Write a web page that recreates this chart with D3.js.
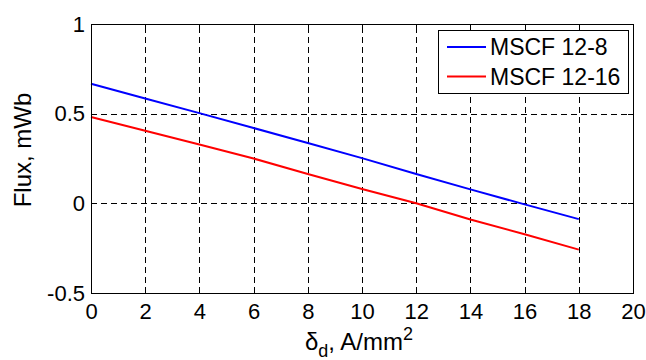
<!DOCTYPE html>
<html><head><meta charset="utf-8">
<script src="https://cdn.jsdelivr.net/npm/d3@7"></script>
<style>body{margin:0;background:#fff}svg{display:block}text{font-family:"Liberation Sans",Arial,sans-serif;fill:#000}</style>
</head><body><svg id="c" width="646" height="360"></svg>
<script>
const xValues = [0, 2, 4, 6, 8, 10, 12, 14, 16, 18];
const seriesNames = ["MSCF 12-8", "MSCF 12-16"];
const seriesColors = ["#0000ff", "#ff0000"];
const blueValues = [0.667, 0.585, 0.503, 0.420, 0.336, 0.252, 0.164, 0.078, -0.006, -0.088];
const redValues = [0.481, 0.405, 0.328, 0.250, 0.164, 0.080, 0.000, -0.090, -0.172, -0.258];
const xTicks = [0, 2, 4, 6, 8, 10, 12, 14, 16, 18, 20];
const yTicks = [-0.5, 0, 0.5, 1];
const yTickLabels = ["-0.5", "0", "0.5", "1"];

(function(){
const svg = d3.select("#c");
const L = 91, R = 633, T = 24, B = 293;
const x = d3.scaleLinear().domain([0, 20]).range([L, R]);
const y = d3.scaleLinear().domain([-0.5, 1]).range([B, T]);

// grid
const g = svg.append("g").attr("stroke", "#000").attr("stroke-width", 1).attr("stroke-dasharray", "6,4").attr("shape-rendering", "crispEdges");
xTicks.slice(1, -1).forEach(t => g.append("line").attr("x1", Math.round(x(t)) + 0.5).attr("x2", Math.round(x(t)) + 0.5).attr("y1", B).attr("y2", T));
yTicks.slice(1, -1).forEach(t => g.append("line").attr("y1", Math.round(y(t)) + 0.5).attr("y2", Math.round(y(t)) + 0.5).attr("x1", L).attr("x2", R));

// data lines
const line = d3.line().x((d, i) => x(xValues[i])).y(d => y(d));
[blueValues, redValues].forEach((vals, k) => {
  svg.append("path").datum(vals).attr("d", line).attr("fill", "none").attr("stroke", seriesColors[k]).attr("stroke-width", 2);
});

// axes box with inward ticks
const ax = svg.append("g").attr("shape-rendering", "crispEdges");
const axB = d3.axisBottom(x).tickValues(xTicks).tickSizeInner(-5).tickSizeOuter(0).tickPadding(10).tickFormat(d3.format("d"));
ax.append("g").attr("transform", `translate(0,${B})`).call(axB);
const axT = d3.axisTop(x).tickValues(xTicks).tickSizeInner(-5).tickSizeOuter(0).tickFormat("");
ax.append("g").attr("transform", `translate(0,${T})`).call(axT);
const axL = d3.axisLeft(y).tickValues(yTicks).tickSizeInner(-5).tickSizeOuter(0).tickPadding(10).tickFormat((d, i) => yTickLabels[i]);
const lg0 = ax.append("g").attr("transform", `translate(${L},0)`).call(axL);
const axR = d3.axisRight(y).tickValues(yTicks).tickSizeInner(-5).tickSizeOuter(0).tickFormat("");
ax.append("g").attr("transform", `translate(${R},0)`).call(axR);
ax.selectAll(".domain").attr("stroke", "#000").attr("stroke-width", 1.3);
ax.selectAll(".tick line").attr("stroke", "#000");
ax.selectAll("text").attr("font-size", 22).attr("font-family", "Liberation Sans, Arial, sans-serif").attr("fill", "#000");
lg0.selectAll(".tick text").attr("dx", 4);

// axis labels
svg.append("text").attr("transform", "translate(31,150) rotate(-90)").attr("text-anchor", "middle").attr("font-size", 24).text("Flux, mWb");
const xl = svg.append("text").attr("x", (L + R) / 2 - 3).attr("y", 350).attr("text-anchor", "middle").attr("font-size", 24);
xl.append("tspan").text("δ");
xl.append("tspan").attr("font-size", 18).attr("dy", 7).text("d");
xl.append("tspan").attr("dy", -7).text(", A/mm");
xl.append("tspan").attr("font-size", 18).attr("dy", -10).text("2");

// legend
const lg = svg.append("g");
lg.append("rect").attr("x", 438.5).attr("y", 30.5).attr("width", 190).attr("height", 63).attr("fill", "#fff").attr("stroke", "#000").attr("stroke-width", 1);
seriesNames.forEach((n, i) => {
  const yy = 47 + i * 29.5;
  lg.append("line").attr("x1", 447).attr("x2", 486).attr("y1", yy).attr("y2", yy).attr("stroke", seriesColors[i]).attr("stroke-width", 2);
  lg.append("text").attr("x", 490).attr("y", yy + 8).attr("font-size", 23).text(n);
});
})();
</script></body></html>
